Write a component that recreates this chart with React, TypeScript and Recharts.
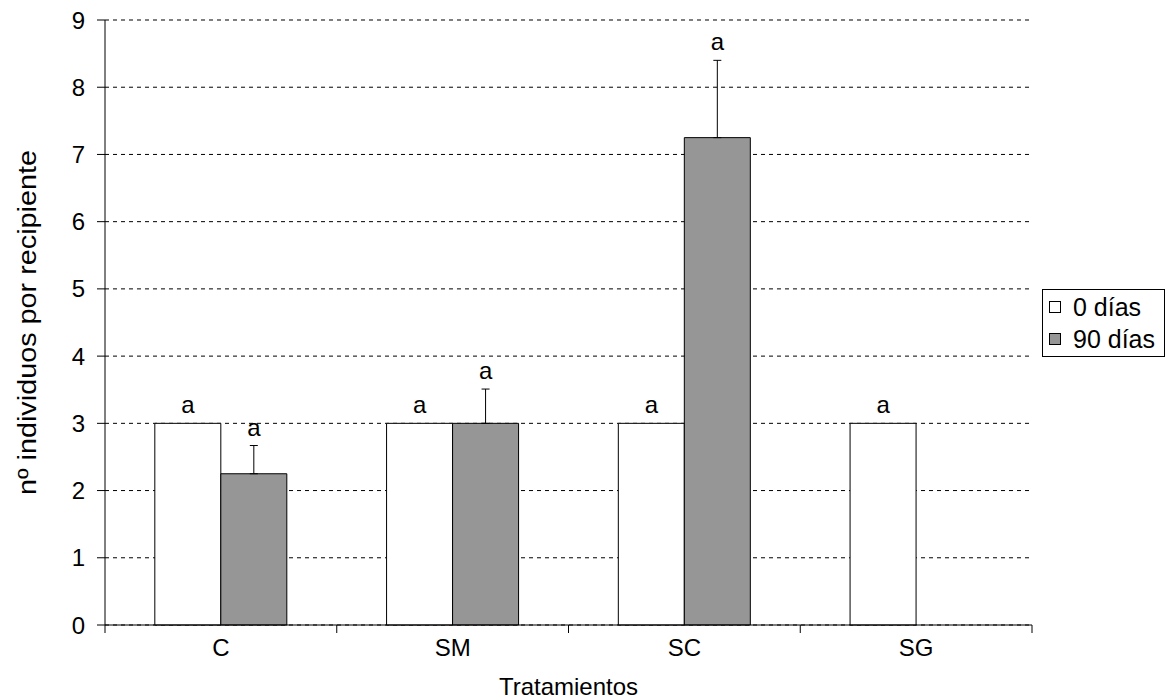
import React from "react";
import {
  BarChart,
  Bar,
  XAxis,
  YAxis,
  CartesianGrid,
  ErrorBar,
  LabelList,
  Legend,
  Label,
} from "recharts";

const categories = ["C", "SM", "SC", "SG"];
const dias0 = [3, 3, 3, 3];
const dias90: (number | null)[] = [2.25, 3, 7.25, null];
const err90: (number | null)[] = [0.42, 0.51, 1.15, null];
const letters0 = ["a", "a", "a", "a"];
const letters90: (string | null)[] = ["a", "a", "a", null];
const yTicks = [0, 1, 2, 3, 4, 5, 6, 7, 8, 9];

const seriesNames = ["0 días", "90 días"];
const seriesFill = ["#ffffff", "#969696"];

const FONT = '"Liberation Sans", Arial, Helvetica, sans-serif';

const data = categories.map((c, i) => ({
  cat: c,
  d0: dias0[i],
  d90: dias90[i],
  e90: err90[i] == null ? null : [0, err90[i]],
}));

// letter above each bar (above the error bar when there is one)
function letterLabel(letters: (string | null)[], errs?: (number | null)[]) {
  return (props: any) => {
    const { x, y, width, height, value, index } = props;
    const txt = letters[index];
    if (!txt || value == null) return null;
    let top = y;
    const e = errs ? errs[index] : null;
    if (e && value) top = y - (e * height) / value;
    return (
      <text
        x={x + width / 2}
        y={top - 10}
        textAnchor="middle"
        fontFamily={FONT}
        fontSize={24}
        fill="#000"
      >
        {txt}
      </text>
    );
  };
}

// category label + tick marks at the category boundaries
function CatTick(props: any) {
  const { x, y, payload, index } = props;
  const half = payload.offset || 0;
  const last = index === categories.length - 1;
  return (
    <g>
      <line x1={x - half} y1={y - 8} x2={x - half} y2={y} stroke="#000" />
      {last && <line x1={x + half} y1={y - 8} x2={x + half} y2={y} stroke="#000" />}
      <text
        x={x}
        y={y + 6}
        dy="0.71em"
        textAnchor="middle"
        fontFamily={FONT}
        fontSize={24}
        fill="#000"
      >
        {payload.value}
      </text>
    </g>
  );
}

function LegendBox() {
  return (
    <div
      style={{
        boxSizing: "border-box",
        width: 123,
        height: 68,
        border: "1px solid #000",
        background: "#fff",
        padding: "1px 0 0 6px",
        fontFamily: FONT,
        fontSize: 25,
        lineHeight: "32px",
        color: "#000",
      }}
    >
      {seriesNames.map((n, i) => (
        <div key={n} style={{ display: "flex", alignItems: "center" }}>
          <span
            style={{
              display: "inline-block",
              width: 10,
              height: 10,
              border: "1px solid #000",
              background: seriesFill[i],
              marginRight: 12,
            }}
          />
          {n}
        </div>
      ))}
    </div>
  );
}

export default function App() {
  return (
    <div style={{ position: "absolute", left: 0, top: 0, background: "#fff" }}>
      <BarChart
        width={1169}
        height={700}
        data={data}
        margin={{ top: 20, right: 137, bottom: 0, left: 0 }}
        barCategoryGap="21.5%"
        barGap={0}
      >
        <CartesianGrid
          vertical={false}
          stroke="#000"
          strokeDasharray="4 4"
        />
        <XAxis
          dataKey="cat"
          height={75}
          stroke="#000"
          tickLine={false}
          tickSize={8}
          tickMargin={0}
          interval={0}
          tick={<CatTick />}
        >
          <Label
            content={(p: any) => {
              const vb = p.viewBox;
              return (
                <text
                  x={vb.x + vb.width / 2}
                  y={vb.y + vb.height - 5}
                  textAnchor="middle"
                  fontFamily={FONT}
                  fontSize={24}
                  fill="#000"
                >
                  Tratamientos
                </text>
              );
            }}
          />
        </XAxis>
        <YAxis
          width={105}
          domain={[0, 9]}
          ticks={yTicks}
          interval={0}
          tickSize={8}
          tickMargin={12}
          stroke="#000"
          tick={{ fill: "#000", fontSize: 24, fontFamily: FONT }}
        >
          <Label
            content={(p: any) => {
              const vb = p.viewBox;
              const cy = vb.y + vb.height / 2;
              return (
                <text
                  x={36}
                  y={cy}
                  transform={`rotate(-90, 36, ${cy})`}
                  textAnchor="middle"
                  fontFamily={FONT}
                  fontSize={25}
                  textLength={345}
                  lengthAdjust="spacingAndGlyphs"
                  fill="#000"
                >
                  nº individuos por recipiente
                </text>
              );
            }}
          />
        </YAxis>
        <Legend
          layout="vertical"
          align="center"
          verticalAlign="middle"
          content={() => <LegendBox />}
          wrapperStyle={{ left: 1042, top: 289, width: "auto", height: "auto" }}
        />
        <Bar
          dataKey="d0"
          name={seriesNames[0]}
          fill={seriesFill[0]}
          stroke="#000"
          strokeWidth={1}
          isAnimationActive={false}
        >
          <LabelList dataKey="d0" content={letterLabel(letters0)} />
        </Bar>
        <Bar
          dataKey="d90"
          name={seriesNames[1]}
          fill={seriesFill[1]}
          stroke="#000"
          strokeWidth={1}
          isAnimationActive={false}
        >
          <ErrorBar
            dataKey="e90"
            width={4}
            stroke="#000"
            strokeWidth={1}
            direction="y"
            isAnimationActive={false}
          />
          <LabelList dataKey="d90" content={letterLabel(letters90, err90)} />
        </Bar>
      </BarChart>
    </div>
  );
}
